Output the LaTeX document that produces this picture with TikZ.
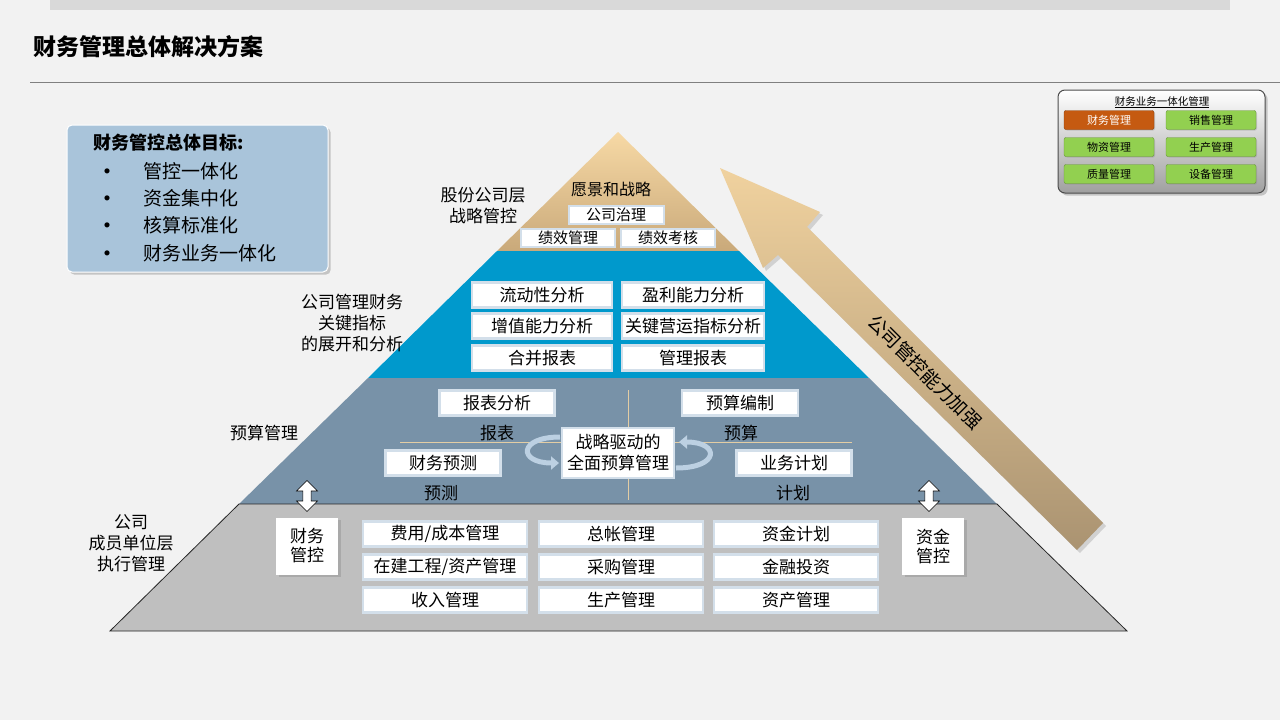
\documentclass[tikz,border=0pt]{standalone}
\usepackage{fontspec}
\setmainfont{Noto Sans CJK SC}
\usetikzlibrary{positioning,shapes,shapes.arrows,shadows,calc,arrows.meta}

\definecolor{pageGray}{HTML}{F2F2F2}
\definecolor{barGray}{HTML}{D9D9D9}
\definecolor{goalBlue}{HTML}{A9C4DA}
\definecolor{layerBlue}{HTML}{0099CC}
\definecolor{layerSteel}{HTML}{7892A8}
\definecolor{layerGray}{HTML}{BFBFBF}
\definecolor{tanTop}{HTML}{F7D9A5}
\definecolor{tanBot}{HTML}{C9A97A}
\definecolor{cellEdge}{HTML}{D3DFEA}
\definecolor{lineTan}{HTML}{E3CDA4}
\definecolor{loopBlue}{HTML}{BCD0E2}
\definecolor{btnGreen}{HTML}{92D050}
\definecolor{btnOrange}{HTML}{C55A11}

\tikzset{
  cell/.style={draw=cellEdge, line width=2.5pt, fill=white, inner sep=0pt,
    minimum height=25pt, font=\fontsize{17}{17}\selectfont},
  topcell/.style={cell, minimum height=18pt, line width=2pt, font=\fontsize{15}{15}\selectfont},
  sidebox/.style={fill=white, drop shadow={opacity=0.35}, inner sep=0pt,
    minimum width=62pt, minimum height=57pt, align=center,
    font=\fontsize{17}{19}\selectfont},
  tag/.style={inner sep=0pt, font=\fontsize{17}{17}\selectfont},
  sidetag/.style={inner sep=0pt, align=center, font=\fontsize{17}{21}\selectfont},
  updown/.style={double arrow, shape border rotate=90, draw=black, fill=white,
    line width=0.6pt, minimum height=31pt, minimum width=21pt,
    double arrow head extend=2pt, inner sep=1pt},
  btn/.style={rounded corners=2pt, fill=btnGreen, draw=btnGreen!70!black,
    minimum width=90pt, minimum height=19pt, inner sep=0pt,
    font=\fontsize{11}{11}\selectfont, drop shadow={opacity=0.3, shadow xshift=1pt, shadow yshift=-1pt}},
  loopband/.style={line width=5pt, color=loopBlue, -{Triangle[length=8pt,width=13pt]}},
}

\begin{document}
\begin{tikzpicture}[x=1pt,y=-1pt]
  % Page and title
  \useasboundingbox (0,0) rectangle (1280,720);
  \fill[pageGray] (0,0) rectangle (1280,720);
  \fill[barGray] (50,0) rectangle (1230,10);
  \path (33,47) node[anchor=west, inner sep=0pt, font=\fontsize{23}{23}\selectfont\bfseries] (title) {财务管理总体解决方案};
  \draw[gray, line width=0.8pt] (30,82) -- (1280,82);

  % Goal box
  \path (197.5,198.5) node[fill=goalBlue, draw=white, line width=1pt, rounded corners=5pt,
    minimum width=261pt, minimum height=147pt, drop shadow={opacity=0.4}] (goals) {};
  \path (93,143) node[anchor=west, inner sep=0pt, font=\fontsize{18}{18}\selectfont\bfseries] (goalsHead) {财务管控总体目标:};
  \path (107,175) node[tag, font=\fontsize{24}{24}\selectfont] (b1) {•};
  \path (107,202) node[tag, font=\fontsize{24}{24}\selectfont] (b2) {•};
  \path (107,229) node[tag, font=\fontsize{24}{24}\selectfont] (b3) {•};
  \path (107,257) node[tag, font=\fontsize{24}{24}\selectfont] (b4) {•};
  \path (143,171) node[tag, anchor=west, font=\fontsize{19}{19}\selectfont] (g1) {管控一体化};
  \path (143,198) node[tag, anchor=west, font=\fontsize{19}{19}\selectfont] (g2) {资金集中化};
  \path (143,225) node[tag, anchor=west, font=\fontsize{19}{19}\selectfont] (g3) {核算标准化};
  \path (143,253) node[tag, anchor=west, font=\fontsize{19}{19}\selectfont] (g4) {财务业务一体化};

  % Big arrow
  \fill[gray!60, opacity=0.5] (723,171) -- (823,215) -- (810,230) -- (1106,526) -- (1080,553) -- (781,258) -- (766,271) -- cycle;
  \shade[top color=tanTop!85!tanBot, bottom color=tanBot!80!black!90] (720,168) -- (820,212) -- (807,227) -- (1103,523) -- (1077,550) -- (778,255) -- (763,268) -- cycle;
  \path (925,372) node[rotate=-45, inner sep=0pt, font=\fontsize{19}{19}\selectfont] (boost) {公司管控能力加强};

  % Pyramid layers
  \coordinate (apex) at (618,132);
  \coordinate (l1) at (497,251); \coordinate (r1) at (739,251);
  \coordinate (l2) at (368,378); \coordinate (r2) at (869,378);
  \coordinate (l3) at (239,504); \coordinate (r3) at (997,504);
  \coordinate (l4) at (110,631); \coordinate (r4) at (1127,631);
  \shade[top color=tanTop, bottom color=tanBot] (apex) -- (r1) -- (l1) -- cycle;
  \fill[layerBlue] (l1) -- (r1) -- (r2) -- (l2) -- cycle;
  \fill[layerSteel] (l2) -- (r2) -- (r3) -- (l3) -- cycle;
  \filldraw[fill=layerGray, draw=black!85, line width=0.8pt] (l3) -- (r3) -- (r4) -- (l4) -- cycle;

  % Top layer
  \path (611,189) node[inner sep=0pt, font=\fontsize{16}{16}\selectfont] (vision) {愿景和战略};
  \path (616,215) node[topcell, minimum width=95pt] (govern) {公司治理};
  \path (568,238) node[topcell, minimum width=94pt] (perfMgmt) {绩效管理};
  \path (668,238) node[topcell, minimum width=94pt] (perfEval) {绩效考核};

  % Blue layer
  \path (542,295) node[cell, minimum width=140pt] (liquid) {流动性分析};
  \path (693,295) node[cell, minimum width=142pt] (profit) {盈利能力分析};
  \path (542,326) node[cell, minimum width=140pt] (value) {增值能力分析};
  \path (693,326) node[cell, minimum width=142pt] (keyOps) {关键营运指标分析};
  \path (542,358) node[cell, minimum width=140pt] (merged) {合并报表};
  \path (693,358) node[cell, minimum width=142pt] (mgmtRep) {管理报表};

  % Budget layer
  \draw[lineTan, line width=0.8pt] (628,390) -- (628,500);
  \draw[lineTan, line width=0.8pt] (400,442) -- (852,442);
  \path (497,403) node[cell, minimum width=115pt] (repAna) {报表分析};
  \path (740,403) node[cell, minimum width=116pt] (budEdit) {预算编制};
  \path (443,463) node[cell, minimum width=115pt] (finFc) {财务预测};
  \path (794,463) node[cell, minimum width=115pt] (bizPlan) {业务计划};
  \path (497,433) node[tag] (tReport) {报表};
  \path (741,433) node[tag] (tBudget) {预算};
  \path (441,493) node[tag] (tForecast) {预测};
  \path (793,493) node[tag] (tPlan) {计划};
  \path (618,453) node[cell, minimum width=112pt, minimum height=50pt, align=center,
    font=\fontsize{17}{21}\selectfont] (core) {战略驱动的\\全面预算管理};
  \draw[loopband] (560,437) .. controls (518,437) and (518,463) .. (559,463);
  \draw[loopband] (676,468) .. controls (720,468) and (720,442) .. (679,442);

  % Bottom layer
  \path (307,496) node[updown] (arrL) {};
  \path (929,496) node[updown] (arrR) {};
  \path (307,546) node[sidebox] (finCtrl) {财务\\管控};
  \path (933,546) node[sidebox] (capCtrl) {资金\\管控};
  \path (445,534) node[cell, minimum width=164pt] (cost) {费用/成本管理};
  \path (621,534) node[cell, minimum width=164pt] (ledger) {总帐管理};
  \path (796,534) node[cell, minimum width=164pt] (fund) {资金计划};
  \path (445,567) node[cell, minimum width=164pt] (build) {在建工程/资产管理};
  \path (621,567) node[cell, minimum width=164pt] (purchase) {采购管理};
  \path (796,567) node[cell, minimum width=164pt] (invest) {金融投资};
  \path (445,600) node[cell, minimum width=164pt] (income) {收入管理};
  \path (621,600) node[cell, minimum width=164pt] (produce) {生产管理};
  \path (796,600) node[cell, minimum width=164pt] (asset) {资产管理};

  % Side labels
  \path (483,206) node[sidetag] (lvlTop) {股份公司层\\战略管控};
  \path (352,323) node[sidetag] (lvlKpi) {公司管理财务\\关键指标\\的展开和分析};
  \path (264,433) node[sidetag] (lvlBud) {预算管理};
  \path (131,543) node[sidetag] (lvlExe) {公司\\成员单位层\\执行管理};

  % Top-right panel
  \path (1161.5,141.5) node[rounded corners=7pt, top color=white, bottom color=gray!75,
    draw=gray!60!black, line width=1pt, minimum width=207pt, minimum height=103pt,
    drop shadow={opacity=0.4}] (panel) {};
  \path (1162,102) node[inner sep=0pt, font=\fontsize{10.5}{10.5}\selectfont] (panelHead) {\underline{财务业务一体化管理}};
  \path (1109,120) node[btn, fill=btnOrange, draw=btnOrange!70!black, text=white] (bFin) {财务管理};
  \path (1211,120) node[btn] (bSale) {销售管理};
  \path (1109,147) node[btn] (bMat) {物资管理};
  \path (1211,147) node[btn] (bProd) {生产管理};
  \path (1109,174) node[btn] (bQual) {质量管理};
  \path (1211,174) node[btn] (bEquip) {设备管理};
\end{tikzpicture}
\end{document}
